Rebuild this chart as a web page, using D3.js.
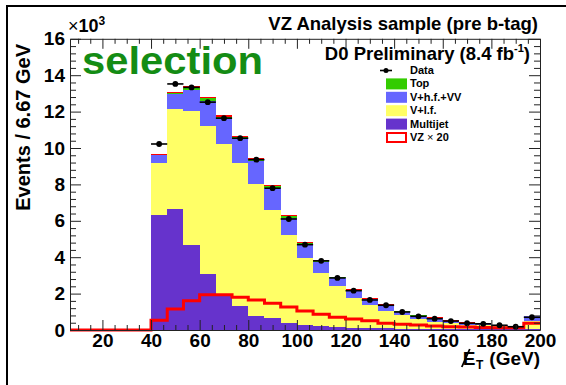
<!DOCTYPE html>
<html><head><meta charset="utf-8">
<script src="https://cdn.jsdelivr.net/npm/d3@7"></script>
<style>
html,body{margin:0;padding:0;background:#fff;}
svg{display:block;font-family:"Liberation Sans",Arial,Helvetica,sans-serif;}
</style></head><body>
<svg id="chart" width="566" height="385"></svg>
<script>
// Missing-ET histogram, bins of 6.67 GeV starting at 40 GeV (last bin holds overflow).
// All yields in thousands of events.
const binStart = 40, binWidth = 20 / 3;
const axisMin = 20 / 3, axisMax = 200;

const multijet = [6.32, 6.65, 4.67, 3.06, 1.94, 1.32, 0.77, 0.64, 0.40, 0.25, 0.20, 0.15,
                  0.12, 0.10, 0.09, 0.08, 0.07, 0.06, 0.05, 0.05, 0.04, 0.04, 0.03, 0.08];
const vlf      = [2.84, 5.50, 7.37, 8.17, 8.28, 7.83, 7.23, 5.96, 4.82, 3.69, 2.92, 2.27,
                  1.62, 1.27, 0.97, 0.74, 0.52, 0.40, 0.33, 0.25, 0.22, 0.16, 0.12, 0.43];
const vhf      = [0.43, 0.79, 1.12, 1.37, 1.38, 1.33, 1.26, 1.21, 0.96, 0.75, 0.63, 0.43,
                  0.43, 0.31, 0.30, 0.18, 0.20, 0.21, 0.13, 0.10, 0.09, 0.07, 0.05, 0.24];
const topQuark = [0.04, 0.10, 0.14, 0.13, 0.12, 0.11, 0.10, 0.09, 0.08, 0.07, 0.06, 0.05,
                  0.04, 0.035, 0.03, 0.025, 0.02, 0.015, 0.01, 0.01, 0.01, 0.01, 0.01, 0.01];
const vzSignal = [0.0265, 0.0575, 0.0805, 0.0965, 0.0965, 0.090, 0.0825, 0.0735, 0.0635, 0.0525, 0.0435, 0.035,
                  0.030, 0.0255, 0.0185, 0.0155, 0.0135, 0.011, 0.009, 0.008, 0.007, 0.0065, 0.006, 0.0185];
const observed = [10.22, 13.52, 13.33, 12.52, 11.64, 10.54, 9.36, 7.79, 6.10, 4.69, 3.80, 2.86,
                  2.16, 1.65, 1.36, 0.99, 0.75, 0.62, 0.49, 0.37, 0.34, 0.26, 0.18, 0.70];
const vzScale = 20;

const xTickValues = [20, 40, 60, 80, 100, 120, 140, 160, 180, 200];
const yTickValues = [0, 2, 4, 6, 8, 10, 12, 14, 16];

const legendItems = [
  {key: "data", label: "Data"},
  {key: "top", label: "Top", color: "#33cc00"},
  {key: "vhf", label: "V+h.f.+VV", color: "#6666ff"},
  {key: "vlf", label: "V+l.f.", color: "#ffff66"},
  {key: "multijet", label: "Multijet", color: "#6633cc"},
  {key: "vz", label: "VZ", color: "#ff0000"}
];
const colors = {multijet: "#6633cc", vlf: "#ffff66", vhf: "#6666ff", top: "#33cc00", vz: "#ff0000"};

const svg = d3.select("#chart");
const W = 566, H = 385;
const padLeft = 70, padRight = 540, padTop = 38.8, padBottom = 330;

svg.append("rect").attr("width", W).attr("height", H).attr("fill", "#fff");
// canvas frame
svg.append("path").attr("d", `M7,${H + 2}V6H${W + 2}`).attr("fill", "none")
  .attr("stroke", "#000").attr("stroke-width", 2);

const x = d3.scaleLinear().domain([axisMin, axisMax]).range([padLeft, padRight]);
const y = d3.scaleLinear().domain([0, 16]).range([padBottom, padTop]);

const rows = multijet.map((m, i) => ({
  lo: binStart + i * binWidth,
  multijet: m, vlf: vlf[i], vhf: vhf[i], top: topQuark[i], vz: vzSignal[i]
}));
const stacked = d3.stack().keys(["multijet", "vlf", "vhf", "top", "vz"])(rows);

const plot = svg.append("g");
plot.selectAll("g.layer").data(stacked).join("g")
  .attr("class", "layer").attr("fill", s => colors[s.key])
  .selectAll("rect").data(s => s).join("rect")
  .attr("shape-rendering", "crispEdges")
  .attr("x", d => x(d.data.lo))
  .attr("width", d => x(d.data.lo + binWidth) - x(d.data.lo))
  .attr("y", d => y(d[1]))
  .attr("height", d => y(d[0]) - y(d[1]));

// VZ x 20 outline histogram
const vzPoints = [[axisMin, 0]].concat(
  vzSignal.map((v, i) => [binStart + i * binWidth, v * vzScale]),
  [[axisMax, vzSignal[vzSignal.length - 1] * vzScale]]);
plot.append("path")
  .attr("d", d3.line().x(d => x(d[0])).y(d => y(d[1])).curve(d3.curveStepAfter)(vzPoints))
  .attr("fill", "none").attr("stroke", "#ff0000").attr("stroke-width", 3);

// data points with bin-width bars
const pts = plot.append("g").selectAll("g").data(observed).join("g");
pts.append("line")
  .attr("x1", (d, i) => x(binStart + i * binWidth))
  .attr("x2", (d, i) => x(binStart + (i + 1) * binWidth))
  .attr("y1", d => y(d)).attr("y2", d => y(d))
  .attr("stroke", "#000").attr("stroke-width", 1.6);
pts.append("circle")
  .attr("cx", (d, i) => x(binStart + (i + 0.5) * binWidth))
  .attr("cy", d => y(d)).attr("r", 2.9).attr("fill", "#000");

// axes, ticks drawn inside the frame
const xMinor = d3.range(10, 200, 5).filter(v => v % 20 !== 0);
const yMinor = d3.range(0, 16.01, 0.4).map(v => +v.toFixed(1)).filter(v => Math.abs(v / 2 - Math.round(v / 2)) > 1e-6);

function styleAxis(g) {
  g.selectAll("path, line").attr("stroke", "#222");
  g.selectAll("text").attr("font-size", 19).attr("font-weight", "bold")
    .attr("fill", "#000").attr("font-family", "Liberation Sans, Arial, sans-serif");
}

const gx = svg.append("g").attr("transform", `translate(0,${padBottom})`);
gx.call(d3.axisBottom(x).tickValues(xTickValues).tickSize(-10).tickSizeOuter(0).tickPadding(3).tickFormat(d3.format("d")));
gx.append("g").call(d3.axisBottom(x).tickValues(xMinor).tickSize(-5).tickSizeOuter(0).tickFormat(""))
  .select(".domain").remove();
styleAxis(gx);

const gxt = svg.append("g").attr("transform", `translate(0,${padTop})`);
gxt.call(d3.axisTop(x).tickValues(xTickValues).tickSize(-10).tickSizeOuter(0).tickFormat(""));
gxt.append("g").call(d3.axisTop(x).tickValues(xMinor).tickSize(-5).tickSizeOuter(0).tickFormat(""))
  .select(".domain").remove();
styleAxis(gxt);

const gy = svg.append("g").attr("transform", `translate(${padLeft},0)`);
gy.call(d3.axisLeft(y).tickValues(yTickValues).tickSize(-11).tickSizeOuter(0).tickPadding(5).tickFormat(d3.format("d")));
gy.append("g").call(d3.axisLeft(y).tickValues(yMinor).tickSize(-6).tickSizeOuter(0).tickFormat(""))
  .select(".domain").remove();
styleAxis(gy);

const gyr = svg.append("g").attr("transform", `translate(${padRight},0)`);
gyr.call(d3.axisRight(y).tickValues(yTickValues).tickSize(-11).tickSizeOuter(0).tickFormat(""));
gyr.append("g").call(d3.axisRight(y).tickValues(yMinor).tickSize(-6).tickSizeOuter(0).tickFormat(""))
  .select(".domain").remove();
styleAxis(gyr);

// exponent label
const expo = svg.append("text").attr("x", 68).attr("y", 32)
  .attr("font-size", 18).attr("font-weight", "bold");
expo.append("tspan").attr("font-weight", "normal").text("\u00d7");
expo.append("tspan").text("10");
expo.append("tspan").attr("font-size", 12).attr("dy", -7).text("3");

// titles
svg.append("text").attr("x", 538).attr("y", 30).attr("text-anchor", "end")
  .attr("font-size", 18.5).attr("font-weight", "bold").text("VZ Analysis sample (pre b-tag)");

const d0 = svg.append("text").attr("x", 530).attr("y", 60).attr("text-anchor", "end")
  .attr("font-size", 18.5).attr("font-weight", "bold");
d0.append("tspan").text("D0 Preliminary (8.4 fb");
d0.append("tspan").attr("font-size", 11).attr("dy", -8).text("-1");
d0.append("tspan").attr("dy", 8).text(")");

svg.append("text").attr("x", 82).attr("y", 74)
  .attr("font-size", 38).attr("font-weight", "bold").attr("fill", "#148c14")
  .attr("textLength", 181).attr("lengthAdjust", "spacingAndGlyphs").text("selection");

svg.append("text").attr("transform", "translate(30,44) rotate(-90)")
  .attr("text-anchor", "end").attr("font-size", 20).attr("font-weight", "bold")
  .text("Events / 6.67 GeV");

// x-axis title: missing transverse energy
const xt = svg.append("g");
const gev = xt.append("text").attr("x", 540).attr("y", 365).attr("text-anchor", "end")
  .attr("font-size", 19).attr("font-weight", "bold").text("(GeV)");
const gevW = gev.node().getComputedTextLength();
const tSub = xt.append("text").attr("x", 540 - gevW - 6).attr("y", 369).attr("text-anchor", "end")
  .attr("font-size", 12).attr("font-weight", "bold").text("T");
const tW = tSub.node().getComputedTextLength();
const eX = 540 - gevW - 6 - tW - 0.5;
const eTxt = xt.append("text").attr("x", eX).attr("y", 365).attr("text-anchor", "end")
  .attr("font-size", 19).attr("font-weight", "bold").text("E");
const eW = eTxt.node().getComputedTextLength();
xt.append("line").attr("x1", eX - eW - 1).attr("y1", 367).attr("x2", eX - eW + 7).attr("y2", 349)
  .attr("stroke", "#000").attr("stroke-width", 1.8);

// legend
const lg = svg.append("g").attr("font-size", 11).attr("font-weight", "bold");
legendItems.forEach((it, i) => {
  const cy = 70.5 + i * 13.4;
  if (it.key === "data") {
    lg.append("line").attr("x1", 380).attr("x2", 392).attr("y1", cy).attr("y2", cy)
      .attr("stroke", "#000").attr("stroke-width", 1.6);
    lg.append("circle").attr("cx", 386).attr("cy", cy).attr("r", 2.5).attr("fill", "#000");
  } else if (it.key === "vz") {
    lg.append("rect").attr("x", 387).attr("y", cy - 4.5).attr("width", 19).attr("height", 9)
      .attr("fill", "#fff").attr("stroke", it.color).attr("stroke-width", 2);
  } else {
    lg.append("rect").attr("x", 386).attr("y", cy - 5.5).attr("width", 21).attr("height", 11)
      .attr("fill", it.color);
  }
  const t = lg.append("text").attr("x", 410).attr("y", cy + 3.5).text(it.label);
  if (it.key === "vz") {
    t.append("tspan").attr("font-weight", "normal").text(" \u00d7 ");
    t.append("tspan").text(" " + vzScale);
  }
});
</script>
</body></html>
